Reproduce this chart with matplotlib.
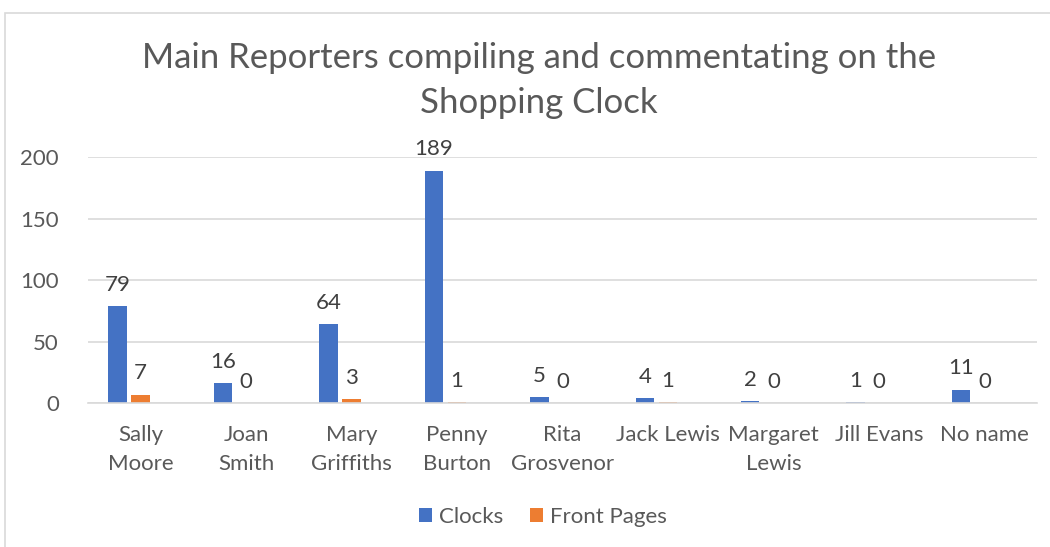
import numpy as np
import matplotlib.pyplot as plt
from matplotlib.patches import Rectangle

reporters = ['Sally\nMoore', 'Joan\nSmith', 'Mary\nGriffiths', 'Penny\nBurton',
             'Rita\nGrosvenor', 'Jack Lewis', 'Margaret\nLewis', 'Jill Evans', 'No name']
clocks = [79, 16, 64, 189, 5, 4, 2, 1, 11]
front_pages = [7, 0, 3, 1, 0, 1, 0, 0, 0]

blue = '#4472C4'
orange = '#ED7D31'
grey = '#595959'

plt.rcParams['font.family'] = ['Lato', 'DejaVu Sans']

fig = plt.figure(figsize=(10.5, 5.47), dpi=100)
# chart border
fig.patches.append(Rectangle((5 / 1050, -0.1), 1.1, 1 - 13 / 547 + 0.1,
                             transform=fig.transFigure, fill=False,
                             edgecolor='#d9d9d9', linewidth=1.2))

ax = fig.add_axes([0.0838, 0.263, 0.904, 0.45])
x = np.arange(len(reporters))
w = 0.175
# excel leaves room for a third (empty) series, so orange sits on the category centre
b1 = ax.bar(x - 0.221, clocks, w, color=blue, label='Clocks')
b2 = ax.bar(x, front_pages, w, color=orange, label='Front Pages')
ax.bar_label(b1, padding=8, fontsize=16, color='#404040')
ax.bar_label(b2, padding=8, fontsize=16, color='#404040')

ax.set_xlim(-0.5, len(reporters) - 0.5)
ax.set_ylim(0, 200)
ax.set_yticks([0, 50, 100, 150, 200])
ax.set_xticks(x)
ax.set_xticklabels(reporters, fontsize=16, color=grey, linespacing=1.55)
ax.tick_params(axis='y', labelsize=16, labelcolor=grey, length=0, pad=21)
ax.tick_params(axis='x', length=0, pad=16)
ax.grid(axis='y', color='#d9d9d9', linewidth=1.2)
ax.set_axisbelow(True)
for s in ['top', 'right', 'left']:
    ax.spines[s].set_visible(False)
ax.spines['bottom'].set_color('#d9d9d9')
ax.spines['bottom'].set_linewidth(1.2)

fig.text(0.513, 0.853, 'Main Reporters compiling and commentating on the\nShopping Clock',
         ha='center', va='center', fontsize=25, color=grey, linespacing=1.5)

fig.legend(loc='center', bbox_to_anchor=(0.517, 0.055), ncol=2, frameon=False,
           fontsize=16, labelcolor=grey, handlelength=0.6, handleheight=0.6,
           handletextpad=0.3, columnspacing=1.2)

fig.savefig('out.png', dpi=100)
